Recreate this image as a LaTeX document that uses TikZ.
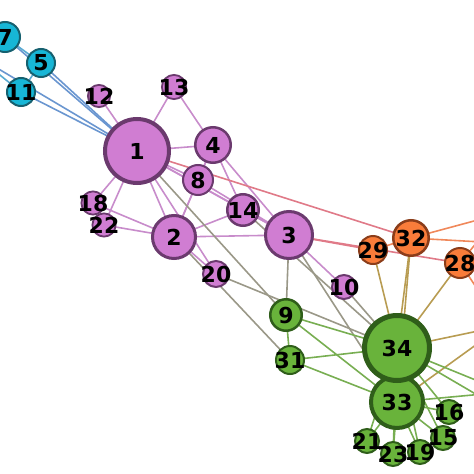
\documentclass[tikz,border=0pt]{standalone}
\usepackage{fontspec}
\setmainfont{DejaVu Sans}
\usetikzlibrary{backgrounds}
\definecolor{pkF}{HTML}{D07DD2}\definecolor{pkD}{HTML}{6B3A6E}
\definecolor{grF}{HTML}{69B33B}\definecolor{grD}{HTML}{2F5E1A}
\definecolor{orF}{HTML}{F97C3A}\definecolor{orD}{HTML}{8B3D1A}
\definecolor{cyF}{HTML}{17B6D6}\definecolor{cyD}{HTML}{16606F}
\definecolor{ePP}{HTML}{C88CCB}\definecolor{eGG}{HTML}{78AE52}
\definecolor{eCC}{HTML}{5AAAD2}\definecolor{ePC}{HTML}{6A96D0}
\definecolor{ePG}{HTML}{9A9888}\definecolor{ePO}{HTML}{E07A88}
\definecolor{eOG}{HTML}{B89C52}\definecolor{eOO}{HTML}{F0885A}
\tikzset{
  vtx/.style={circle, inner sep=0pt, outer sep=0pt},
  lbl/.style={font=\bfseries\fontsize{22}{22}\selectfont, text=black, inner sep=0pt},
  pk/.style={vtx, draw=pkD, fill=pkF},
  gr/.style={vtx, draw=grD, fill=grF},
  orn/.style={vtx, draw=orD, fill=orF},
  cy/.style={vtx, draw=cyD, fill=cyF},
  edg/.style={line width=1.6pt},
}
\newcommand{\vx}[6]{% style, name, x, y, radius, linewidth
  \pgfmathsetmacro{\ms}{2*#5-#6}
  \node[#1, line width=#6pt, minimum size=\ms pt, label={[lbl]center:#2}] (n#2) at (#3,#4) {};}
\begin{document}
\begin{tikzpicture}[x=1pt,y=-1pt]
\useasboundingbox (0,0) rectangle (474,474);
\clip (0,0) rectangle (474,474);
% off-canvas vertices
\coordinate (n6) at (-25,55);
\coordinate (n17) at (-55,20);
\coordinate (n24) at (502,326);
\coordinate (n25) at (500,214);
\coordinate (n26) at (535,245);
\coordinate (n27) at (520,420);
\coordinate (n30) at (505,392);
% vertices (numeric order)
\vx{pk}{1}{137}{151}{34}{4}
\vx{pk}{2}{174}{237}{23}{3}
\vx{pk}{3}{289}{235}{25}{3}
\vx{pk}{4}{213}{145}{19}{2.5}
\vx{cy}{5}{41}{63}{15}{2}
\vx{cy}{7}{5}{37}{16}{2}
\vx{pk}{8}{198}{180}{16}{2}
\vx{gr}{9}{286}{315}{17}{2.5}
\vx{pk}{10}{344}{287}{13}{2}
\vx{cy}{11}{21}{92}{15}{2}
\vx{pk}{12}{99}{96}{12}{1.8}
\vx{pk}{13}{174}{87}{13}{1.8}
\vx{pk}{14}{243}{210}{17}{2.5}
\vx{gr}{15}{443}{438}{13}{2}
\vx{gr}{16}{449}{412}{13}{2}
\vx{pk}{18}{93}{203}{12.5}{1.8}
\vx{gr}{19}{420}{452}{13}{2}
\vx{pk}{20}{216}{274}{14}{2}
\vx{gr}{21}{367}{441}{13}{2}
\vx{pk}{22}{104}{225}{12.5}{1.8}
\vx{gr}{23}{393}{454}{13}{2}
\vx{orn}{28}{460}{263}{16}{2}
\vx{orn}{29}{373}{250}{15}{2}
\vx{gr}{31}{290}{360}{15}{2}
\vx{orn}{32}{411}{238}{19}{2.5}
\vx{gr}{33}{397}{402}{28}{4}
\vx{gr}{34}{397}{348}{35}{5}
% edges
\begin{pgfonlayer}{background}
\clip (0,0) rectangle (474,474);
\foreach \a/\b in {1/2,1/3,1/4,1/8,1/12,1/13,1/14,1/18,1/20,1/22,2/3,2/4,2/8,2/14,2/18,2/20,2/22,3/4,3/8,3/10,3/14,4/8,4/13,4/14}
  \draw[edg, ePP] (n\a.center) -- (n\b.center);
\foreach \a/\b in {1/5,1/7,1/11}
  \draw[edg, ePC] (n\a.center) -- (n\b.center);
\draw[edg, ePC] (n1.center) -- (n6);
\foreach \a/\b in {5/7,5/11}
  \draw[edg, eCC] (n\a.center) -- (n\b.center);
\draw[edg, eCC] (n6) -- (n7.center);
\draw[edg, eCC] (n6) -- (n11.center);
\draw[edg, eCC] (n6) -- (n17);
\draw[edg, eCC] (n17) -- (n7.center);
\foreach \a/\b in {1/9,2/31,3/9,3/33,10/34,14/34,20/34}
  \draw[edg, ePG] (n\a.center) -- (n\b.center);
\foreach \a/\b in {1/32,3/28,3/29}
  \draw[edg, ePO] (n\a.center) -- (n\b.center);
\draw[edg, eOO] (n29.center) -- (n32.center);
\draw[edg, eOO] (n24) -- (n26);
\draw[edg, eOO] (n24) -- (n28.center);
\draw[edg, eOO] (n25) -- (n26);
\draw[edg, eOO] (n25) -- (n28.center);
\draw[edg, eOO] (n25) -- (n32.center);
\draw[edg, eOO] (n26) -- (n32.center);
\foreach \a/\b in {28/34,29/34,32/33,32/34}
  \draw[edg, eOG] (n\a.center) -- (n\b.center);
\draw[edg, eOG] (n24) -- (n30);
\draw[edg, eOG] (n24) -- (n33.center);
\draw[edg, eOG] (n24) -- (n34.center);
\foreach \a/\b in {9/31,9/33,9/34,15/33,15/34,16/33,16/34,19/33,19/34,21/33,21/34,23/33,23/34,31/33,31/34,33/34}
  \draw[edg, eGG] (n\a.center) -- (n\b.center);
\draw[edg, eGG] (n27) -- (n30);
\draw[edg, eGG] (n27) -- (n34.center);
\draw[edg, eGG] (n30) -- (n33.center);
\draw[edg, eGG] (n30) -- (n34.center);
\end{pgfonlayer}
\end{tikzpicture}
\end{document}
